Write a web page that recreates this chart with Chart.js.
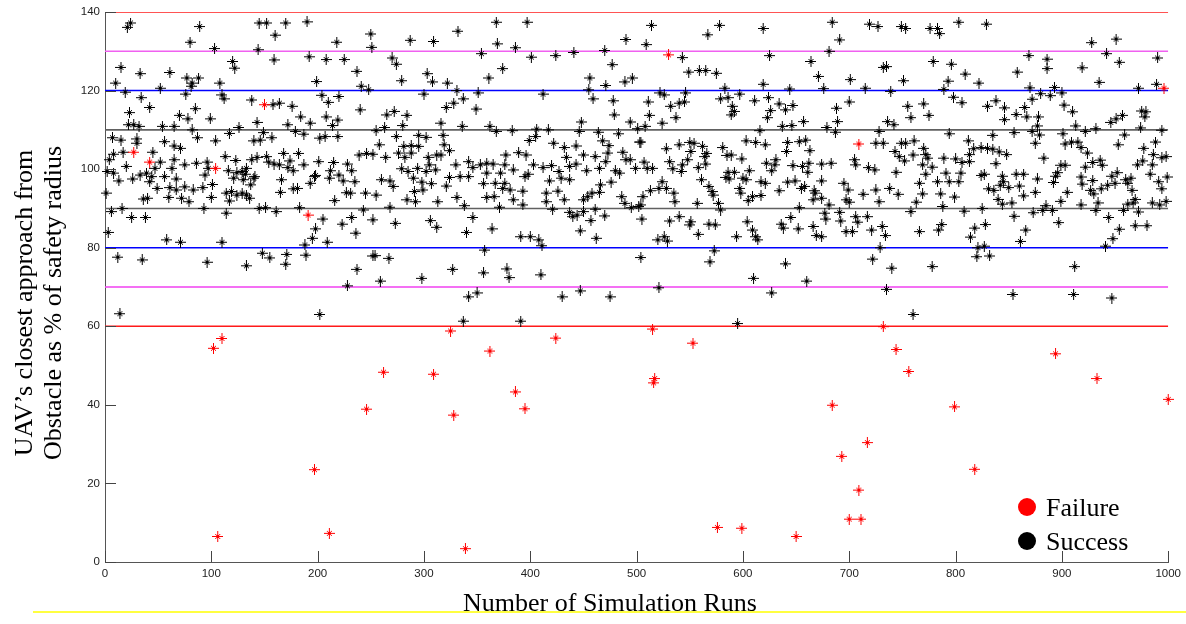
<!DOCTYPE html>
<html>
<head>
<meta charset="utf-8">
<script src="https://cdn.jsdelivr.net/npm/chart.js@4.4.1/dist/chart.umd.min.js"></script>
<style>
  html, body { margin: 0; padding: 0; background: #fff; }
  #wrap { width: 1186px; height: 624px; position: relative; }
</style>
</head>
<body>
<div id="wrap"><canvas id="scatter" width="1186" height="624"></canvas></div>
<script>
// --- 1. Data ---
const xTicks = [0, 100, 200, 300, 400, 500, 600, 700, 800, 900, 1000];
const yTicks = [0, 20, 40, 60, 80, 100, 120, 140];
const thresholds = [140, 130, 120, 110, 90, 80, 70, 60];
const seriesNames = ['Failure', 'Success'];

// [run, closest approach %]
const failurePoints = [
  [27,104.3],[42,101.8],[104,100.2],[150,116.4],[191,88.3],
  [102,54.4],[110,56.9],[106,6.5],[197,23.5],[211,7.3],[246,38.9],[262,48.3],
  [309,47.8],[325,58.8],[328,37.4],[339,3.4],[362,53.7],[386,43.3],[395,39.0],[424,57.0],
  [515,59.3],[516,45.6],[517,46.7],[530,129.1],[553,55.7],
  [576,8.8],[599,8.6],[650,6.5],[684,39.9],[693,26.9],[700,10.9],[709,106.4],[709,18.3],[711,10.9],[717,30.4],
  [732,59.9],[744,54.1],[756,48.5],[799,39.5],[818,23.6],[894,53.0],[933,46.7],[996,120.6],[1000,41.4]
];

const successPoints = [
  [24,137.2],[21,136.1],[89,136.3],[80,132.3],[103,130.7],[145,137.2],[152,137.2],[160,134.1],[170,137.2],[190,137.5],[218,132.3],[250,134.4],[251,131],[144,130.4],
  [15,125.9],[10,121.9],[33,124.3],[61,124.6],[77,123.2],[88,123.2],[82,121.9],[81,121.1],[108,121.9],[120,127.4],[122,125.7],[159,127.8],[192,128.6],[208,127.9],[225,127.9],[237,124.9],[199,122.3],[241,121.1],[248,120.2],[52,120.6],[19,119.6],
  [34,118.2],[42,115.7],[23,114.4],[22,111.3],[27,111.3],[32,110.9],[70,113.7],[78,112.8],[85,115.4],[76,119.1],[110,118.9],[112,117.9],[99,112.8],[138,117.6],[158,116.4],[164,116.8],[176,116],[184,113.3],[193,111.7],[208,113.3],[210,117],[204,118.8],[220,118.5],[219,112.5],[240,115.1],[214,111.1],[143,111.9],[172,111.3],[54,110.9],[65,110.9],[82,110],[126,110.6],
  [7,108],[15,107.4],[30,107.7],[30,106.6],[56,107],[65,105.9],[71,105.3],[87,108],[104,107.2],[117,109.1],[140,107.2],[146,107.4],[149,109.3],[157,108],[179,109.6],[187,108.9],[202,107.9],[207,108.3],[219,108.3],[8,103.8],[17,104.3],[45,104.3],[4,102.4],[113,103.2],[123,102.2],[138,102.4],[143,103],[152,103.2],[168,104],[182,104],[174,102.1],[201,101.9],[215,101.7],[239,103.6],[246,104],[252,103.8],
  [20,100.7],[52,101.8],[65,102.4],[63,100.2],[75,101.1],[86,101.5],[96,101.8],[97,100.2],[116,99.6],[124,99.1],[129,99.4],[133,100.2],[132,98.7],[141,98.1],[154,101.8],[159,101.3],[164,101.1],[172,100.4],[177,99.6],[187,101.1],[198,98.4],[212,99.6],[220,98.5],[228,101.3],[232,99.6],[2,99.4],[8,99],[26,97.5],[33,98.5],[39,99],[44,98.1],[47,100.2],[42,96.8],[49,95.1],[56,98.1],[67,97.5],[61,95.3],[67,94.7],[75,95.5],[83,94.7],[92,95.3],[94,98.5],[101,96.1],[121,97.7],[130,97.3],[137,96],[140,97.7],[166,97.3],[177,95],[181,95.1],[193,96.4],[197,98.1],[211,97.7],[224,97],[235,96.8],[13,97],[1,93.9],
  [36,92.4],[40,92.6],[60,92.8],[72,92.6],[79,91.7],[100,92.8],[114,93.9],[119,94.3],[117,91.9],[124,93.4],[129,93.9],[133,93.4],[136,92.6],[165,94.1],[216,92],[227,94],[231,93.9],[245,93.9],
  [6,89.2],[16,90],[25,87.7],[38,87.7],[93,90],[114,88.8],[145,90],[151,90.2],[161,89.2],[183,90.2],[205,87.3],[198,84.8],[195,82.4],[209,81.4],[188,80.7],[223,86],[232,87.7],[236,83.7],[243,89.6],[252,87.1],[3,83.9],[58,82],[71,81.4],[110,81.4],
  [12,77.6],[35,76.9],[96,76.3],[133,75.4],[148,78.6],[155,77.4],[171,78.3],[170,75.8],[189,78.1],[237,74.5],[228,70.3],[252,77.9],
  [14,63.2],[202,63],
  [368,137.4],[397,137.4],[332,135.1],[287,132.8],[309,132.5],[369,131.9],[386,130.9],[490,133],[354,129.4],[401,128.5],[424,128.9],[441,129.7],[470,130.2],
  [270,128.3],[274,126.7],[279,122.5],[303,124.3],[308,122.2],[322,121.9],[374,125.6],[361,123.2],[331,120],[351,119.4],[300,119.1],[337,117.9],[328,116.8],[321,115.7],[349,115.3],[412,119.1],[456,123.2],[455,120.2],[459,117.9],[471,121.3],[477,126.6],[489,122.2],[496,123.2],[478,117.4],[479,113.8],
  [265,113.8],[272,114.7],[284,113.7],[280,111.1],[263,110.6],[255,109.8],[316,111.7],[336,110.9],[362,110.9],[368,109.6],[383,109.8],[406,110.2],[417,110],[448,112],[446,109.6],[464,109.4],[483,109],[494,112],[501,110.3],
  [274,108.3],[295,108.6],[302,108.1],[318,108.6],[405,108.3],[399,107.3],[258,106.2],[281,105.8],[288,106],[295,105.8],[319,106.2],[276,104.1],[288,104.1],[282,103],[264,103],[304,103],[312,103.6],[316,103.6],[324,104.7],[377,103.6],[389,104.2],[396,103.6],[422,106.6],[432,105.5],[443,105.9],[434,103],[450,103.6],[461,103.2],[468,107.2],[474,106],[473,104.1],[487,104.3],[503,106.9],[494,102.4],[471,101.9],[443,101.3],
  [279,100.1],[285,99.4],[294,100.2],[302,99.4],[311,99.8],[305,101.1],[330,101.1],[342,101.9],[346,100.4],[353,101.1],[359,101.5],[365,101.3],[376,101.1],[384,99.8],[403,101.1],[412,100.4],[420,100.9],[427,99.4],[437,100.7],[453,99.6],[465,100.2],[480,99.6],[484,99],[490,102.4],[499,100.2],[260,97.3],[268,97],[271,95.6],[290,97.7],[298,96.7],[307,96.3],[324,97.9],[334,98.1],[342,98.1],[356,96.3],[359,99],[367,96.4],[372,99],[376,96.4],[374,95.1],[381,94.7],[393,94.4],[395,98.1],[398,98.7],[418,97],[429,97.7],[437,97.3],[415,93.9],[426,94.4],[466,96],[465,94.1],[476,96.7],[321,95.7],[255,93.4],[291,94.3],[299,94.7],[284,92.2],[292,91.7],[313,91.7],[331,92.8],[359,92.8],[366,93],[384,92.2],[415,91.7],[432,92.2],[450,92.2],[454,93],[458,93.9],[486,93],[489,91.3],[495,90.2],[502,90.5],[268,90.3],[338,90.7],[371,90.3],[393,90.9],
  [421,89.8],[437,89],[444,88.3],[450,89.2],[461,89.8],[470,88.1],[457,86.9],[440,87.9],[273,86.2],[306,86.9],[312,85.2],[346,87.7],[364,84.8],[340,83.9],[447,84.3],[462,82.4],[391,82.8],[400,82.8],[408,82],[411,80.5],[357,79.4],
  [254,78],[267,77.3],[327,74.5],[356,73.6],[378,74.6],[380,72.4],[410,73.1],[259,71.5],[298,72.2],
  [342,67.5],[350,68.5],[430,67.5],[447,69],[475,67.5],[337,61.3],[391,61.3],
  [514,136.6],[509,131.7],[567,134.2],[578,136.6],[619,135.8],[684,137.4],[691,132.9],[719,136.9],[727,136.3],[749,136.3],[753,135.8],[681,130],[543,128.4],[625,128.9],[664,127.4],[549,124.7],[559,125.1],[565,125.1],[575,124.4],[619,121.6],[671,123.6],[701,122.8],[732,125.9],[735,126.1],[751,122.5],[583,120.6],[644,120.4],[676,120.5],[715,120.6],[739,119.8],
  [522,119.4],[526,118.9],[546,119.4],[511,117.1],[532,116],[540,116.8],[545,117.1],[579,117.9],[586,118.2],[597,119.1],[611,117.4],[624,118.2],[590,116],[592,114.7],[589,113.8],[626,114.9],[623,113.1],[634,116.6],[640,115.1],[647,116.2],[512,113.7],[537,113.1],[524,111.7],[508,110.9],[657,112.1],[637,110.9],[646,111.1],[688,115.5],[700,117.1],[689,112.1],[679,110.6],[687,109.4],[736,112.1],[742,111.3],[755,116],[758,113.1],[728,109.6],[616,109.8],
  [504,106.9],[528,105.2],[540,106.2],[550,106.8],[554,106.6],[551,104.5],[562,105.8],[566,104],[564,103.2],[581,105.5],[585,103.5],[589,103.6],[603,107.2],[612,106.8],[621,106.2],[642,106.8],[641,104.5],[653,107],[659,107.4],[663,104.7],[599,102.6],[531,101.9],[548,102.4],[725,106.6],[732,106.6],[749,106.6],[753,106.6],[743,104.5],[747,103.2],[752,102.1],[760,103.6],[705,102.4],[631,102.4],
  [507,101.8],[515,100.2],[510,100.2],[534,100.1],[543,101.1],[542,99.4],[558,100.4],[565,101.3],[622,101.5],[630,101.1],[627,99.6],[647,100.9],[656,100.7],[662,101.5],[661,99.2],[674,101.3],[683,101.5],[706,101.1],[718,100.4],[724,99.8],[744,99.2],[586,99.2],[592,99.2],[606,99.6],[584,97.9],[587,97.5],[600,97.7],[603,97.3],[617,96.8],[621,96.4],[642,96.7],[649,97],[655,95.1],[658,95.6],[674,97],[695,96.4],[699,94.7],[561,97.3],[568,95.6],[571,94.3],[572,93.4],[524,96.8],[521,95.1],[528,95.1],[513,94.5],[535,93.9],[506,93],[597,95.1],[598,93.9],[634,94.5],[667,94.5],[668,93.9],[674,92.6],[666,92.2],[617,93.3],[609,93],[605,92],[536,91.7],[557,91.3],[577,91.3],[504,90.9],[713,93.6],[725,94.7],[738,95.1],[746,93.6],[728,91.7],[697,92.2],[700,91.6],[681,90.9],[653,90.2],[579,89.6],[758,89.2],
  [505,87.3],[531,86.8],[540,87.9],[551,86.6],[550,85.8],[568,86],[574,85.8],[604,86.6],[609,84.5],[612,82.8],[614,82],[636,86],[638,85],[645,87.7],[652,84.8],[666,85.4],[669,83.1],[674,82.8],[677,88.8],[678,87.3],[691,89],[692,86.8],[697,84.1],[703,84.1],[706,87.9],[708,86.5],[717,87.9],[721,84.5],[731,85.4],[734,83.1],[558,83.4],[594,82.8],[520,82],[526,82.8],[529,81.7],
  [729,80],[504,77.5],[573,79.2],[569,76.4],[640,75.9],[722,77.1],[740,74.8],[610,72.2],[660,71.5],[521,69.8],[627,68.5],[735,69.4],[595,60.7],[760,63],
  [776,135.8],[783,135.8],[785,134.5],[803,137.4],[829,136.9],[928,132.2],[951,133.1],[942,129.4],[954,127.2],[990,128.3],[869,128.9],[886,128],[886,125.6],[919,125.8],[779,127.4],[796,126.7],[809,124.2],[858,124.7],[793,122.4],[822,121.9],[935,122.1],[789,120.3],[870,120.7],[893,120.8],[900,119.4],[880,119.2],[889,118.7],[972,120.6],[989,121.6],
  [798,118.3],[806,116.9],[770,116.6],[775,113.7],[830,116],[838,117.4],[846,115.6],[846,112.6],[857,113.9],[865,115.7],[867,113.3],[872,117.8],[878,113.3],[902,116.3],[910,114.6],[913,111],[922,109.6],[932,110.3],[946,111.9],[951,112.8],[957,113.7],[975,114.8],[979,114.6],[978,113.3],[974,110.5],[994,109.9],[877,111],[872,109.6],[794,109],[835,108.6],[855,109.3],
  [761,107.2],[812,107.2],[879,108.7],[875,106.6],[901,109],[903,106.4],[909,106.9],[915,106.9],[918,105.5],[959,108.7],[953,106.2],[988,106.9],[977,105.3],[770,105.3],[772,103.7],[774,102.8],[769,101.1],[789,102.8],[800,102.6],[813,103.7],[817,105.2],[824,105.5],[830,105.3],[835,105.1],[841,104.4],[848,103.7],[838,101.4],[883,102.8],[924,104.1],[929,101.7],[936,102.3],[938,101],[899,101],[903,101],[922,100.5],[986,103.7],[994,102.9],[998,103.2],[976,102.1],[971,101.1],[985,101.1],[806,101.7],[813,101.9],
  [766,96.4],[778,100.5],[772,98.7],[783,96.8],[791,99],[794,96.8],[803,96.8],[805,99],[824,98.4],[827,98.7],[844,98.2],[845,96.8],[857,98.7],[864,98.7],[877,97.5],[894,98.2],[892,96.6],[896,99.1],[918,98],[919,96.2],[929,97.1],[947,98.2],[952,99.1],[950,96.4],[960,97.3],[965,97.7],[962,96.4],[983,98.7],[991,96.8],[999,98],[769,93.7],[763,91.6],[786,93.7],[799,92.9],[831,95],[836,94.6],[842,95.9],[850,95.3],[860,95.7],[864,93.2],[875,94.1],[840,92.3],[844,91.1],[853,91.4],[905,94.1],[899,91.8],[927,94.6],[930,93.7],[937,95],[943,95.9],[966,94.6],[969,92.3],[967,91.4],[994,95],[985,91.4],[992,90.9],[998,91.8],[788,90.5],[808,89.3],[825,90],[873,88.9],[882,89.5],[885,90.7],[891,89.5],[918,90.9],[932,89.5],[934,91.4],[958,89.5],[962,91.1],[972,89.1],
  [766,84.1],[784,84.5],[787,85.9],[818,85],[828,85.9],[814,82.7],[855,88],[866,84.5],[861,81.6],[897,86.4],[944,87.7],[954,84.7],[969,85.6],[980,85.6],[948,82.3],[941,80.4],[821,80],[827,80.4],
  [820,77.7],[832,77.9],[778,75.2],[912,75.2],[854,68.1],[911,68.1],[947,67.2]
];

// --- 2. Styles ---
const FAIL_COLOR = '#ff0000';
const OK_COLOR = '#000000';
const thresholdColor = { 140: '#ff1a1a', 130: '#f060f0', 120: '#0000ff', 110: '#606060', 90: '#606060', 80: '#0000ff', 70: '#f040f0', 60: '#ff1a1a' };
const SERIF = '"Liberation Serif", "Times New Roman", serif';
const SANS = '"Liberation Sans", Arial, sans-serif';

// matlab-ish '*' marker: long plus, short cross
function makeStar(color) {
    const c = document.createElement('canvas');
    c.width = 11; c.height = 11;
    const g = c.getContext('2d');
    g.strokeStyle = color;
    g.lineWidth = 1;
    g.beginPath();
    g.moveTo(0, 5.5); g.lineTo(11, 5.5);
    g.moveTo(5.5, 0); g.lineTo(5.5, 11);
    g.moveTo(3, 3); g.lineTo(8, 8);
    g.moveTo(8, 3); g.lineTo(3, 8);
    g.stroke();
    return c;
}

const toXY = arr => arr.map(p => ({ x: p[0], y: p[1] }));

// --- 3. Datasets ---
const datasets = [
    {
        label: seriesNames[0],
        data: toXY(failurePoints),
        pointStyle: makeStar(FAIL_COLOR),
        pointRadius: 5,
        showLine: false,
        clip: false,
        order: 0
    },
    {
        label: seriesNames[1],
        data: toXY(successPoints),
        pointStyle: makeStar(OK_COLOR),
        pointRadius: 5,
        showLine: false,
        clip: false,
        order: 1
    }
];
thresholds.forEach(v => {
    datasets.push({
        label: 'level ' + v,
        type: 'line',
        data: [{ x: 0, y: v }, { x: 1000, y: v }],
        borderColor: thresholdColor[v],
        borderWidth: 1.6,
        pointRadius: 0,
        showLine: true,
        fill: false,
        order: 2
    });
});

// --- 4. Extras drawn on top: inside ticks, titles, legend ---
const decor = {
    id: 'decor',
    afterDraw(chart) {
        const ctx = chart.ctx;
        const xs = chart.scales.x, ys = chart.scales.y;
        const area = chart.chartArea;

        // tick marks pointing inwards
        ctx.save();
        ctx.strokeStyle = '#444';
        ctx.lineWidth = 1;
        ctx.beginPath();
        xTicks.forEach(t => {
            const px = Math.round(xs.getPixelForValue(t)) + 0.5;
            ctx.moveTo(px, area.bottom);
            ctx.lineTo(px, area.bottom - 11);
        });
        yTicks.forEach(t => {
            const py = Math.round(ys.getPixelForValue(t)) + 0.5;
            ctx.moveTo(area.left, py);
            ctx.lineTo(area.left + 11, py);
        });
        ctx.stroke();
        ctx.restore();

        // the stray yellow rule under the plot
        ctx.save();
        ctx.strokeStyle = '#ffff00';
        ctx.lineWidth = 1.5;
        ctx.beginPath();
        ctx.moveTo(33, 612);
        ctx.lineTo(1186, 612);
        ctx.stroke();
        ctx.restore();

        // axis titles
        ctx.save();
        ctx.fillStyle = '#000';
        ctx.font = '26px ' + SERIF;
        ctx.textAlign = 'center';
        ctx.textBaseline = 'alphabetic';
        ctx.fillText('Number of Simulation Runs', 610, 611);

        ctx.translate(0, 303);
        ctx.rotate(-Math.PI / 2);
        ctx.fillText('UAV\u2019s closest approach from', 0, 32);
        ctx.fillText('Obstacle as % of safety radius', 0, 61);
        ctx.restore();

        // legend
        ctx.save();
        ctx.font = '26px ' + SERIF;
        ctx.textAlign = 'left';
        ctx.textBaseline = 'alphabetic';
        [[seriesNames[0], FAIL_COLOR, 507], [seriesNames[1], OK_COLOR, 541]].forEach(([name, col, cy]) => {
            ctx.fillStyle = col;
            ctx.beginPath();
            ctx.arc(1027, cy, 9, 0, Math.PI * 2);
            ctx.fill();
            ctx.fillStyle = '#000';
            ctx.fillText(name, 1046, cy + 9);
        });
        ctx.restore();
    }
};

// --- 5. Chart ---
const chart = new Chart(document.getElementById('scatter'), {
    type: 'scatter',
    data: { datasets: datasets },
    options: {
        responsive: false,
        animation: false,
        events: [],
        layout: { padding: { top: 12, right: 16, left: 0, bottom: 0 } },
        plugins: {
            legend: { display: false },
            tooltip: { enabled: false },
            title: { display: false }
        },
        scales: {
            x: {
                type: 'linear',
                min: 0,
                max: 1000,
                afterFit(s) { s.height = 62; },
                afterBuildTicks(s) { s.ticks = xTicks.map(v => ({ value: v })); },
                grid: { display: false, drawTicks: false },
                border: { display: true, color: '#555', width: 1 },
                ticks: {
                    autoSkip: false,
                    maxRotation: 0,
                    padding: 5,
                    color: '#222',
                    font: { family: SANS, size: 11.5 },
                    callback: v => String(v)
                }
            },
            y: {
                type: 'linear',
                min: 0,
                max: 140,
                afterFit(s) { s.width = 105; },
                afterBuildTicks(s) { s.ticks = yTicks.map(v => ({ value: v })); },
                grid: { display: false, drawTicks: false },
                border: { display: true, color: '#555', width: 1 },
                ticks: {
                    autoSkip: false,
                    padding: 5,
                    color: '#222',
                    font: { family: SANS, size: 11.5 },
                    callback: v => String(v)
                }
            }
        }
    },
    plugins: [decor]
});
</script>
</body>
</html>
